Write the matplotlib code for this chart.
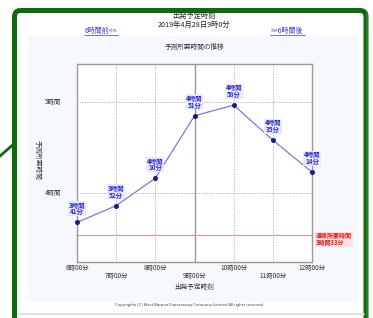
import matplotlib
matplotlib.use("Agg")
import matplotlib.pyplot as plt
from matplotlib.patches import Rectangle, FancyBboxPatch
from matplotlib.lines import Line2D

plt.rcParams['font.family'] = ['Noto Sans CJK JP', 'DejaVu Sans']

# data
hours = [6, 7, 8, 9, 10, 11, 12]
x_labels = ["6時00分", "7時00分", "8時00分", "9時00分", "10時00分", "11時00分", "12時00分"]
minutes = [221, 232, 250, 291, 298, 275, 254]          # predicted travel time in minutes
value_labels = ["3時間\n41分", "3時間\n52分", "4時間\n10分", "4時間\n51分",
                "4時間\n58分", "4時間\n35分", "4時間\n14分"]
normal_minutes = 213
normal_label = "通常所要時間\n3時間33分"
y_ticks = [240, 300]
y_tick_labels = ["4時間", "5時間"]

W, H = 373, 318
fig = plt.figure(figsize=(W / 100, H / 100), dpi=100)
fig.patch.set_facecolor("white")

# background overlay in pixel coordinates
bg = fig.add_axes([0, 0, 1, 1])
bg.set_xlim(0, W)
bg.set_ylim(H, 0)
bg.axis("off")
# light panel
bg.add_patch(Rectangle((28, 36), 330, 266, facecolor="#f5f8fc", edgecolor="none"))
# green frame
frame_col = "#0c6b0c"
bg.add_patch(FancyBboxPatch((14.5, 10.5), 351.5, 320, boxstyle="round,pad=0,rounding_size=6",
                            facecolor="none", edgecolor=frame_col, linewidth=3.6))
bg.add_patch(Rectangle((365.5, 12), 2, 310, facecolor="#2a7d2a", edgecolor="none"))
bg.add_line(Line2D([0, 15], [156, 143], color=frame_col, linewidth=2.0))
bg.plot([18, 364], [314, 314], color="#cfe8cf", linewidth=1.2)

# header texts
bg.text(194, 16, "出発予定時刻", ha="center", va="center", fontsize=5.2, color="#222222")
bg.text(194, 24.5, "2019年4月28日9時0分", ha="center", va="center", fontsize=5.2, color="#222222")
bg.text(101, 31, "6時間前<<", ha="center", va="center", fontsize=5.0, color="#3a3ad8")
bg.plot([84, 118], [34.5, 34.5], color="#3a3ad8", linewidth=0.5)
bg.text(287, 31, ">>6時間後", ha="center", va="center", fontsize=5.0, color="#3a3ad8")
bg.plot([270, 305], [34.5, 34.5], color="#3a3ad8", linewidth=0.5)
bg.text(194, 47, "予測所要時間の推移", ha="center", va="center", fontsize=4.8, color="#333333")
bg.text(194, 287, "出発予定時刻", ha="center", va="center", fontsize=4.8, color="#333333")
bg.text(190, 305, "Copyrights (C) West Nippon Expressway Company Limited All rights reserved.",
        ha="center", va="center", fontsize=3.0, color="#444444")
bg.text(38, 160, "予測所要時間", ha="center", va="center", fontsize=4.8, color="#333333",
        rotation=270)

# main plot
L, R, T, B = 77, 312, 64, 262
ax = fig.add_axes([L / W, 1 - B / H, (R - L) / W, (B - T) / H])
ax.set_facecolor("white")
ax.set_xlim(6, 12)
ax.set_ylim(195, 325)
for s in ax.spines.values():
    s.set_color("#999999")
    s.set_linewidth(1.0)
ax.set_xticks([])
ax.set_yticks([])

for h in hours[1:-1]:
    if h == 9:
        ax.axvline(h, color="#999999", linewidth=1.0)
    else:
        ax.axvline(h, color="#aaaaaa", linewidth=0.7, linestyle=(0, (1, 1.5)))
for yv in y_ticks:
    ax.axhline(yv, color="#aaaaaa", linewidth=0.7, linestyle=(0, (1, 1.5)))
ax.axhline(normal_minutes, color="#f09090", linewidth=0.8)

ax.plot(hours, minutes, color="#7a7ae0", linewidth=0.9, zorder=3)
ax.plot(hours, minutes, linestyle="none", marker="o", markersize=2.6,
        color="#1a1a90", zorder=4, clip_on=False)

for h, m, lab in zip(hours, minutes, value_labels):
    ax.annotate(lab, (h, m), xytext=(0, 5), textcoords="offset points",
                ha="center", va="bottom", fontsize=4.6, color="#2a2ad0",
                fontweight="bold", linespacing=0.95, zorder=5,
                annotation_clip=False,
                bbox=dict(boxstyle="square,pad=0.1", facecolor="#e6e8ff",
                          edgecolor="none"))

ax.text(12.1, normal_minutes - 3, normal_label, ha="left", va="center", fontsize=4.3,
        color="#e01818", fontweight="bold", linespacing=0.95,
        bbox=dict(boxstyle="square,pad=0.1", facecolor="#fde0e0", edgecolor="none"))

for yv, lab in zip(y_ticks, y_tick_labels):
    ax.text(5.6, yv, lab, ha="right", va="center", fontsize=4.6, color="#333333")

for i, (h, lab) in enumerate(zip(hours, x_labels)):
    off = 195 - (6 if i % 2 == 0 else 14) * 130 / 198
    ax.text(h, off, lab, ha="center", va="center", fontsize=4.6, color="#333333")

fig.savefig("out.png", dpi=100, facecolor="white")
